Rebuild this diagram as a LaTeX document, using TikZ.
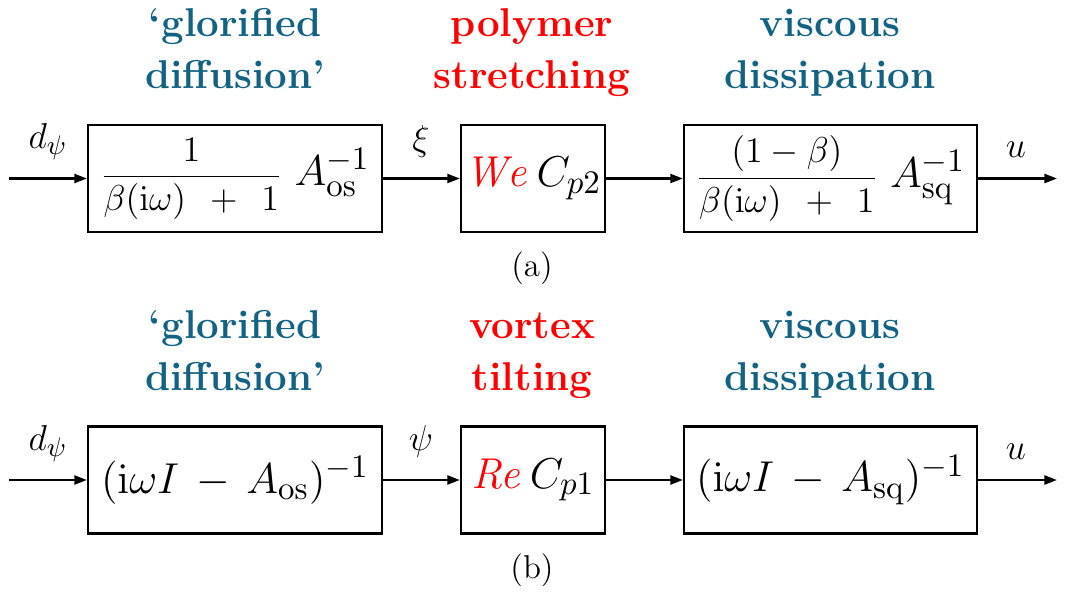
\documentclass[tikz,border=0pt]{standalone}
\usepackage{amsmath}
\usetikzlibrary{arrows.meta}
\definecolor{hdrblue}{RGB}{20,98,130}
\DeclareMathSizes{14}{14}{10.5}{8}
\tikzset{
  blk/.style={draw, line width=0.75pt, inner sep=0pt, minimum height=35.67pt,
    font=\fontsize{14}{16}\selectfont},
  sig/.style={line width=0.75pt, -{Triangle[length=4.2pt,width=3pt]}},
  hdr/.style={anchor=base, font=\fontsize{13.4}{16}\selectfont\bfseries},
  lbl/.style={anchor=base, font=\fontsize{12.5}{14}\selectfont},
  captxt/.style={font=\fontsize{11}{13}\selectfont},
}
\newcommand{\fracpart}[2]{{\fontsize{12.5}{14}\selectfont$\displaystyle\frac{#1}{#2}$}}
\begin{document}
\begin{tikzpicture}[x=0.33333pt,y=-0.33333pt]
\useasboundingbox (0,0) rectangle (1080,605);
% ---------- row (a) ----------
\node[hdr,text=hdrblue] (ha1) at (235,36) {`glorified};
\node[hdr,text=hdrblue] (ha2) at (235,88) {diffusion'};
\node[hdr,text=red] (hb1) at (532,36) {polymer};
\node[hdr,text=red] (hb2) at (532,88) {stretching};
\node[hdr,text=hdrblue] (hc1) at (830,36) {viscous};
\node[hdr,text=hdrblue] (hc2) at (830,88) {dissipation};

\node[blk,minimum width=98pt] (a1) at (235,178.5)
  {\fracpart{1}{\beta(\mathrm{i}\omega)\;\,+\;\,1}\hspace{4pt}$A_{\mathrm{os}}^{-1}$};
\node[blk,minimum width=48pt] (a2) at (533,178.5)
  {$\textcolor{red}{\mathit{We}}\,C_{p2}$};
\node[blk,minimum width=97.67pt] (a3) at (830.5,178.5)
  {\fracpart{(1-\beta)}{\beta(\mathrm{i}\omega)\;\,+\;\,1}\hspace{4pt}$A_{\mathrm{sq}}^{-1}$};

\coordinate (ain) at (9,178.5);
\coordinate (aout) at (1057,178.5);
\draw[sig] (ain) -- (a1.west);
\draw[sig] (a1.east) -- (a2.west);
\draw[sig] (a2.east) -- (a3.west);
\draw[sig] (a3.east) -- (aout);

\node[lbl] (la1) at (48,148) {$d_{\psi}$};
\node[lbl] (la2) at (421,150) {$\xi$};
\node[lbl] (la3) at (1016,157) {$u$};
\node[captxt] (capa) at (532,268) {(a)};

% ---------- row (b) ----------
\node[hdr,text=hdrblue] (hd1) at (235,338) {`glorified};
\node[hdr,text=hdrblue] (hd2) at (235,390) {diffusion'};
\node[hdr,text=red] (he1) at (532,338) {vortex};
\node[hdr,text=red] (he2) at (532,390) {tilting};
\node[hdr,text=hdrblue] (hf1) at (830,338) {viscous};
\node[hdr,text=hdrblue] (hf2) at (830,390) {dissipation};

\node[blk,minimum width=98pt] (b1) at (235,480)
  {$(\mathrm{i}\omega I\,-\,A_{\mathrm{os}})^{-1}$};
\node[blk,minimum width=48pt] (b2) at (533,480)
  {$\textcolor{red}{\mathit{Re}}\,C_{p1}$};
\node[blk,minimum width=97.67pt] (b3) at (830.5,480)
  {$(\mathrm{i}\omega I\,-\,A_{\mathrm{sq}})^{-1}$};

\coordinate (bin) at (9,480);
\coordinate (bout) at (1057,480);
\draw[sig] (bin) -- (b1.west);
\draw[sig] (b1.east) -- (b2.west);
\draw[sig] (b2.east) -- (b3.west);
\draw[sig] (b3.east) -- (bout);

\node[lbl] (lb1) at (48,450) {$d_{\psi}$};
\node[lbl] (lb2) at (421,450) {$\psi$};
\node[lbl] (lb3) at (1016,459) {$u$};
\node[captxt] (capb) at (532,570) {(b)};
\end{tikzpicture}
\end{document}
